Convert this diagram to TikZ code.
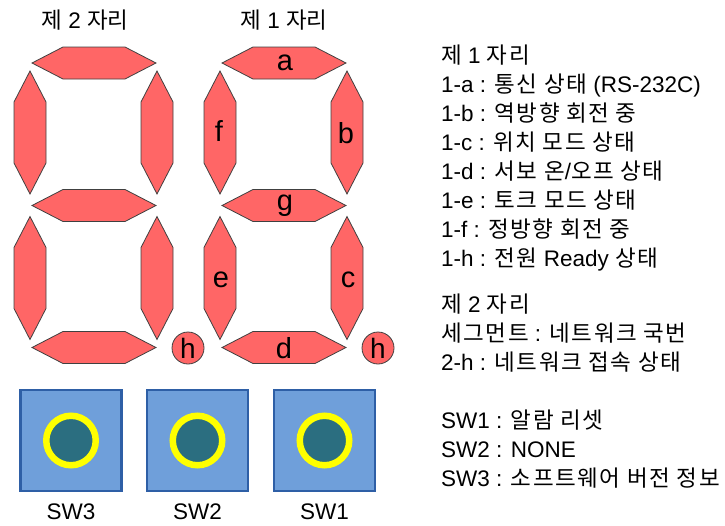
\documentclass[tikz,border=0pt]{standalone}
\usepackage{fontspec}
\setmainfont{Liberation Sans}
\newfontfamily\krfont[LetterSpace=7]{Noto Sans CJK KR}
\newfontfamily\krtitle{Noto Sans CJK KR}
\newcommand\K[1]{{\krfont #1}}
\newcommand\KT[1]{{\krtitle #1}}
\definecolor{segred}{HTML}{FF6666}
\definecolor{segline}{HTML}{404040}
\definecolor{boxfill}{HTML}{6F9FDA}
\definecolor{boxline}{HTML}{2E5FA6}
\definecolor{knob}{HTML}{2B6E80}
\definecolor{ringy}{HTML}{FFFF00}
\tikzset{
  segstyle/.style={fill=segred, draw=segline, line width=0.8pt, line join=miter},
  hseg/.pic={\draw[segstyle] (-62,0) -- (-31,-16) -- (31,-16) -- (62,0) -- (31,16) -- (-31,16) -- cycle;},
  vseg/.pic={\draw[segstyle] (0,-61.5) -- (16,-30.5) -- (16,30.5) -- (0,61.5) -- (-16,30.5) -- (-16,-30.5) -- cycle;},
  seglabel/.style={font=\fontsize{29}{33}\selectfont, inner sep=0pt},
  dotcirc/.style={circle, fill=segred, draw=segline, line width=0.8pt, minimum size=32pt, inner sep=0pt, font=\fontsize{28}{32}\selectfont},
  title/.style={font=\fontsize{22.5}{27}\selectfont, inner sep=0pt},
  info/.style={font=\fontsize{22.5}{27}\selectfont, inner sep=0pt, anchor=base west},
  swbox/.style={fill=boxfill, draw=boxline, line width=2.2pt, minimum size=101pt, inner sep=0pt},
  swknob/.style={circle, fill=knob, draw=ringy, line width=6.5pt, minimum size=49.5pt, inner sep=0pt},
  swlabel/.style={font=\fontsize{22.5}{27}\selectfont, inner sep=0pt},
}
\begin{document}
\begin{tikzpicture}[x=1pt,y=-1pt]
\useasboundingbox (0,0) rectangle (725,525);
% digit 2 (left)
\pic at (94,63) {hseg};
\pic at (94,205.5) {hseg};
\pic at (94,347.5) {hseg};
\pic at (30,132.5) {vseg};
\pic at (157,132.5) {vseg};
\pic at (30,278) {vseg};
\pic at (157,278) {vseg};
\node[dotcirc] (h2) at (188,348) {h};
% digit 1 (right)
\pic at (284,63) {hseg};
\pic at (284,205.5) {hseg};
\pic at (284,347.5) {hseg};
\pic at (220,132.5) {vseg};
\pic at (347,132.5) {vseg};
\pic at (220,278) {vseg};
\pic at (347,278) {vseg};
\node[dotcirc] (h1) at (378,348) {h};
\node[seglabel] (la) at (285,63) {a};
\node[seglabel] (lb) at (346,133) {b};
\node[seglabel] (lc) at (348,280) {c};
\node[seglabel] (ld) at (284,348) {d};
\node[seglabel] (le) at (221,280) {e};
\node[seglabel] (lf) at (219,131) {f};
\node[seglabel] (lg) at (285,206) {g};
% titles
\node[title] (t2) at (85,20) {\KT{제} 2 \KT{자리}};
\node[title] (t1) at (284,20) {\KT{제} 1 \KT{자리}};
% switches
\node[swbox] (b3) at (71,440.5) {};
\node[swbox] (b2) at (197.5,440.5) {};
\node[swbox] (b1) at (324.5,440.5) {};
\node[swknob] (k3) at (b3) {};
\node[swknob] (k2) at (b2) {};
\node[swknob] (k1) at (b1) {};
\node[swlabel] (s3) at (71,512) {SW3};
\node[swlabel] (s2) at (197.5,512) {SW2};
\node[swlabel] (s1) at (324.5,512) {SW1};
% info text
\node[info] (i0) at (441,63.5) {\K{제} 1 \K{자리}};
\node[info] (i1) at (441,92.5) {1-a : \K{통신 상태} (RS-232C)};
\node[info] (i2) at (441,121.5) {1-b : \K{역방향 회전 중}};
\node[info] (i3) at (441,150.5) {1-c : \K{위치 모드 상태}};
\node[info] (i4) at (441,179.5) {1-d : \K{서보 온}/\K{오프 상태}};
\node[info] (i5) at (441,208.5) {1-e : \K{토크 모드 상태}};
\node[info] (i6) at (441,237.5) {1-f : \K{정방향 회전 중}};
\node[info] (i7) at (441,266.5) {1-h : \K{전원} Ready \K{상태}};
\node[info] (j0) at (441,312.5) {\K{제} 2 \K{자리}};
\node[info] (j1) at (441,341.5) {\K{세그먼트} : \K{네트워크 국번}};
\node[info] (j2) at (441,370.5) {2-h : \K{네트워크 접속 상태}};
\node[info] (w1) at (441,428.5) {SW1 : \K{알람 리셋}};
\node[info] (w2) at (441,457.5) {SW2 : NONE};
\node[info] (w3) at (441,486.5) {SW3 : \K{소프트웨어 버전 정보}};
\end{tikzpicture}
\end{document}
